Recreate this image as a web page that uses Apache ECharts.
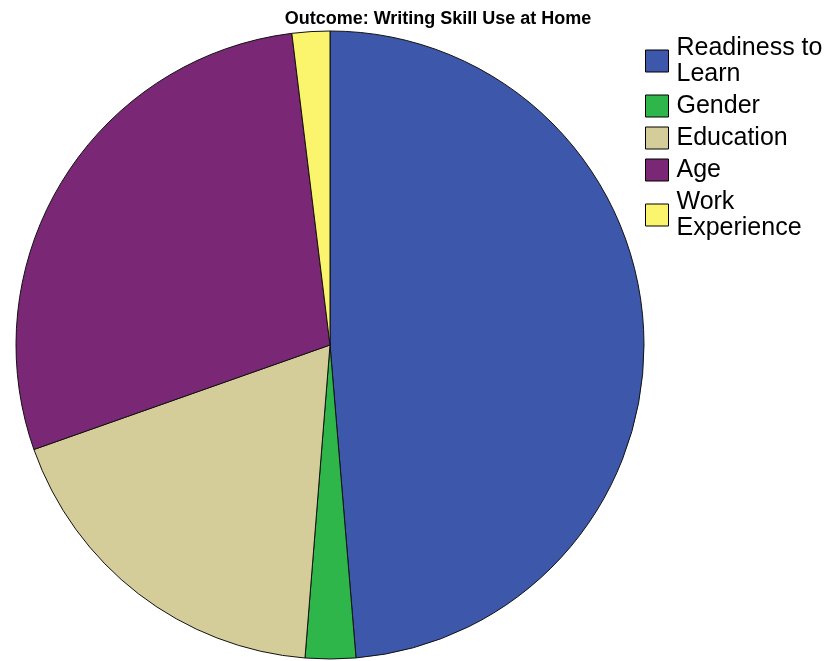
<!DOCTYPE html>
<html>
<head>
<meta charset="utf-8">
<script src="https://cdn.jsdelivr.net/npm/echarts@6/dist/echarts.min.js"></script>
<style>
  html, body { margin: 0; padding: 0; background: #fff; }
  #chart { width: 830px; height: 661px; }
</style>
</head>
<body>
<div id="chart"></div>
<script>
// Share of each predictor (percent), clockwise from 12 o'clock
const categories = ['Readiness to Learn', 'Gender', 'Education', 'Age', 'Work Experience'];
const shares = [48.68, 2.59, 18.33, 28.46, 1.94];
const legendLabels = {
  'Readiness to Learn': 'Readiness to\nLearn',
  'Work Experience': 'Work\nExperience'
};
const colors = ['#3d57aa', '#2fb64b', '#d4cd99', '#7a2775', '#fbf46d'];

const chart = echarts.init(document.getElementById('chart'), null, { renderer: 'canvas' });

chart.setOption({
  animation: false,
  color: colors,
  title: {
    text: 'Outcome: Writing Skill Use at Home',
    left: 433,
    top: 5,
    textAlign: 'center',
    textStyle: {
      fontFamily: 'Liberation Sans, Arial, sans-serif',
      fontSize: 18,
      fontWeight: 'bold',
      color: '#000'
    }
  },
  legend: {
    orient: 'vertical',
    left: 645,
    top: 35,
    itemWidth: 23,
    itemHeight: 22,
    itemGap: 6,
    icon: 'rect',
    padding: 0,
    itemStyle: { borderColor: '#000', borderWidth: 1 },
    formatter: name => legendLabels[name] || name,
    textStyle: {
      fontFamily: 'Liberation Sans, Arial, sans-serif',
      fontSize: 25,
      lineHeight: 26,
      color: '#000',
      padding: [0, 0, 0, 3]
    },
    data: categories
  },
  series: [{
    type: 'pie',
    center: [330, 345],
    radius: [0, 314],
    startAngle: 90,
    clockwise: true,
    label: { show: false },
    labelLine: { show: false },
    emphasis: { disabled: true },
    itemStyle: { borderColor: '#111', borderWidth: 1 },
    data: categories.map((name, i) => ({ name, value: shares[i] }))
  }]
});
</script>
</body>
</html>
